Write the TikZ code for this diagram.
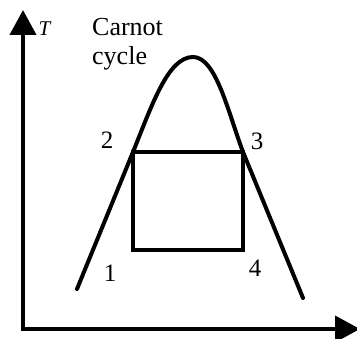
\documentclass[tikz,border=0pt]{standalone}
\usepackage{fontspec}
\setmainfont{Liberation Serif}
\usetikzlibrary{arrows.meta}
\begin{document}
\begin{tikzpicture}[x=1pt,y=1pt,axis/.style={line width=4pt, -{Triangle[width=26pt,length=25pt]}},curve/.style={line width=4pt, line cap=round},lbl/.style={font=\fontsize{25}{29}\selectfont, inner sep=0pt}]
\useasboundingbox (0,0) rectangle (357,339);
\coordinate (origin) at (23,10); \coordinate (ttop) at (23,329); \coordinate (sright) at (360,10);
\draw[axis] (origin) -- (ttop);
\draw[axis] ([xshift=-2pt]origin) -- (sright);
\node[inner sep=0pt] (tlbl) at (45,310) {\fontsize{21}{24}\selectfont\textit{T}};
\node[lbl, font=\fontsize{26}{29}\selectfont, align=left, anchor=north west] (title) at (92,321) {Carnot\\cycle};
% saturation dome
\coordinate (p1) at (77,50); \coordinate (p2) at (133,187); \coordinate (peak) at (193,282); \coordinate (p3) at (243,187); \coordinate (p4) at (303,41);
\draw[curve] (p1) -- (p2) .. controls (152,234) and (168,282) .. (peak) .. controls (216,282) and (228,227) .. (p3) -- (p4);
% cycle
\coordinate (c1) at (133,89);
\draw[line width=4pt] (c1) rectangle (p3);
\node[lbl] (n1) at (110,66) {1};
\node[lbl] (n2) at (107,199) {2};
\node[lbl] (n3) at (257,198) {3};
\node[lbl] (n4) at (255,71) {4};
\end{tikzpicture}
\end{document}
